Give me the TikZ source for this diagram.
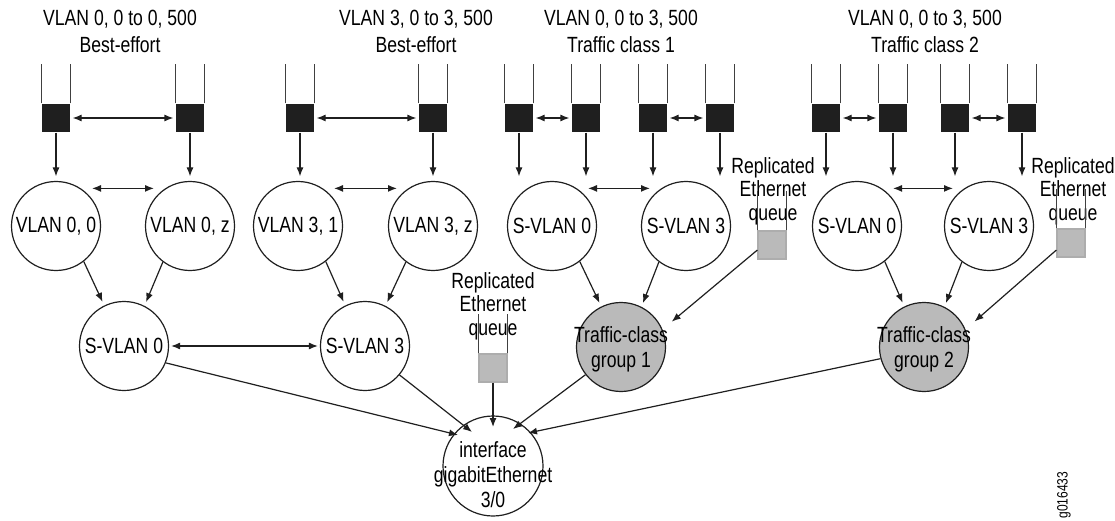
\documentclass[tikz,border=0pt]{standalone}
\usepackage{fontspec}
\setmainfont{Liberation Sans}[FakeStretch=0.8]
\usepackage{tikz}
\usetikzlibrary{shapes,arrows,arrows.meta}
\usetikzlibrary{positioning}
\tikzstyle{queue} = [rectangle, fill=black!88, minimum size=28pt, inner sep=0pt]
\tikzstyle{repqueue} = [rectangle, fill=black!27, draw=black!32, minimum size=28pt,
    inner sep=0pt]
\tikzstyle{vlan} = [circle, draw=black!88, minimum size=89pt, inner sep=0pt]
\tikzstyle{tcgroup} = [vlan, fill=black!27]
\tikzstyle{iface} = [vlan, minimum size=100pt]
\tikzstyle{title} = [align=center, font=\fontsize{22}{27}\selectfont]
\tikzstyle{note} = [align=center, inner sep=0pt, font=\fontsize{22}{23.5}\selectfont]
\tikzstyle{inside} = [align=center, inner sep=0pt, font=\fontsize{22}{25}\selectfont]
\tikzstyle{link} = [-{Latex[length=9pt,width=7pt]}, black!88]
\tikzstyle{both} = [{Latex[length=9pt,width=7pt]}-{Latex[length=9pt,width=7pt]}, black!88]

\begin{document}
\begin{tikzpicture}[x=1pt, y=-1pt, line width=1.2pt, font=\fontsize{22}{24}\selectfont]
  \useasboundingbox (0,0) rectangle (1115,521);
  % Place titles
  \node [title] (titleA) at (120,31) {VLAN 0, 0 to 0, 500\\Best-effort};
  \node [title] (titleB) at (416,31) {VLAN 3, 0 to 3, 500\\Best-effort};
  \node [title] (titleC) at (621,31) {VLAN 0, 0 to 3, 500\\Traffic class 1};
  \node [title] (titleD) at (925,31) {VLAN 0, 0 to 3, 500\\Traffic class 2};
  % Place queues
  \node [queue] (qa1) at (56,118) {};
  \node [queue, right of=qa1, node distance=134pt] (qa2) {};
  \node [queue] (qb1) at (300,118) {};
  \node [queue, right of=qb1, node distance=133pt] (qb2) {};
  \node [queue] (qc1) at (519,118) {};
  \node [queue, right of=qc1, node distance=67pt] (qc2) {};
  \node [queue, right of=qc2, node distance=67pt] (qc3) {};
  \node [queue, right of=qc3, node distance=67pt] (qc4) {};
  \node [queue] (qd1) at (826,118) {};
  \node [queue, right of=qd1, node distance=67pt] (qd2) {};
  \node [queue, right of=qd2, node distance=62pt] (qd3) {};
  \node [queue, right of=qd3, node distance=67pt] (qd4) {};
  % Place VLAN nodes
  \node [vlan, below of=qa1, node distance=108pt] (vlan00) {VLAN 0, 0};
  \node [vlan, below of=qa2, node distance=108pt] (vlan0z) {VLAN 0, z};
  \node [vlan] (vlan31) at (298,226) {VLAN 3, 1};
  \node [vlan, right of=vlan31, node distance=135pt] (vlan3z) {VLAN 3, z};
  \node [vlan] (svc0) at (552,226) {S-VLAN 0};
  \node [vlan, right of=svc0, node distance=134pt] (svc3) {S-VLAN 3};
  \node [vlan] (svd0) at (857,226) {S-VLAN 0};
  \node [vlan, right of=svd0, node distance=132pt] (svd3) {S-VLAN 3};
  \node [vlan] (svlan0) at (124,346) {S-VLAN 0};
  \node [vlan, right of=svlan0, node distance=241pt] (svlan3) {S-VLAN 3};
  \node [tcgroup, label={[inside, yshift=-2pt]center:Traffic-class\\group 1}] (tcg1) at (621,347) {};
  \node [tcgroup, label={[inside, yshift=-2pt]center:Traffic-class\\group 2}] (tcg2) at (924,347) {};
  \node [iface, label={[inside, yshift=-9pt]center:interface\\gigabitEthernet\\3/0}] (iface) at (493,466) {};
  % Replicated Ethernet queues
  \node [note] (rep1txt) at (493,306) {Replicated\\Ethernet\\queue};
  \node [note] (rep2txt) at (773,191) {Replicated\\Ethernet\\queue};
  \node [note] (rep3txt) at (1073,191) {Replicated\\Ethernet\\queue};
  \node [repqueue] (rep1) at (493,368) {};
  \node [repqueue] (rep2) at (772,245) {};
  \node [repqueue] (rep3) at (1071,243) {};
  \node [rotate=90, font=\fontsize{15}{15}\selectfont] (code) at (1064,495) {g016433};
  % Draw tubes
  \foreach \q in {qa1,qa2,qb1,qb2,qc1,qc2,qc3,qc4,qd1,qd2,qd3,qd4,rep1,rep2,rep3}
    \draw [black!75, line width=1pt] (\q.north west) -- ++(0,-39) (\q.north east) -- ++(0,-39);
  % Draw edges
  \foreach \a/\b in {qa1/qa2,qb1/qb2,qc1/qc2,qc3/qc4,qd1/qd2,qd3/qd4}
    \draw [both, shorten <=2pt, shorten >=2pt] (\a.east) -- (\b.west);
  \foreach \q/\c in {qa1/vlan00,qa2/vlan0z,qb1/vlan31,qb2/vlan3z,qc1/svc0,qc2/svc0,
      qc3/svc3,qc4/svc3,qd1/svd0,qd2/svd0,qd3/svd3,qd4/svd3}
    \draw [link, shorten >=4.5pt] (\q.south) -- (\q.south |- \c.north);
  \foreach \a/\b in {vlan00/vlan0z,vlan31/vlan3z,svc0/svc3,svd0/svd3}
    \draw [both] ([xshift=36pt,yshift=-7.5pt]\a.north) -- ([xshift=-36pt,yshift=-7.5pt]\b.north);
  \foreach \a/\b in {vlan00/svlan0,vlan31/svlan3,svc0/tcg1,svd0/tcg2}
    \draw [link, shorten >=4pt] (\a.-52) -- (\b.116);
  \foreach \a/\b in {vlan0z/svlan0,vlan3z/svlan3,svc3/tcg1,svd3/tcg2}
    \draw [link, shorten >=4pt] (\a.-127) -- (\b.63);
  \draw [both, shorten <=2pt, shorten >=2pt] (svlan0.east) -- (svlan3.west);
  \draw [link, shorten >=12pt] ([yshift=-5pt]rep2.west) -- (tcg1.23);
  \draw [link, shorten >=12pt] ([yshift=-7pt]rep3.west) -- (tcg2.23);
  \draw [link] (svlan0.-22) -- ([xshift=-35pt,yshift=31pt]iface.center);
  \draw [link] (svlan3.-40) -- ([xshift=-21pt,yshift=34pt]iface.center);
  \draw [link] (rep1.south) -- ([yshift=39pt]iface.center);
  \draw [link] (tcg1.-142) -- ([xshift=20pt,yshift=37pt]iface.center);
  \draw [link] (tcg2.-165) -- ([xshift=35pt,yshift=33pt]iface.center);
\end{tikzpicture}
\end{document}
